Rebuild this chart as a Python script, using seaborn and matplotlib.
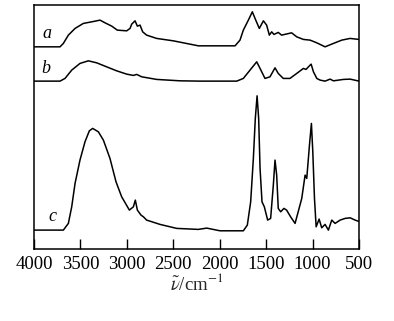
import matplotlib
matplotlib.use("Agg")
import matplotlib.pyplot as plt
import seaborn as sns
import pandas as pd

# wavenumbers (cm^-1) and signal heights (arbitrary units, stacked traces)
wn_a = [4000, 3720, 3684, 3630, 3558, 3469, 3379, 3289, 3235, 3163, 3103, 3002, 2966, 2948,
        2912, 2887, 2858, 2830, 2787, 2679, 2500, 2230, 1835, 1782, 1746, 1692, 1649, 1620,
        1574, 1530, 1495, 1466, 1441, 1416, 1370, 1334, 1226, 1171, 1099, 1027, 955, 866,
        776, 686, 597, 500]
val_a = [202.3, 202.3, 205.7, 214.0, 220.7, 225.7, 227.3, 229.0, 226.3, 223.0, 219.0, 218.3, 220.7, 225.0,
         228.3, 223.0, 224.0, 217.3, 214.0, 210.7, 208.3, 203.3, 203.3, 209.0, 219.0, 229.0, 237.3, 230.7,
         220.7, 228.3, 224.0, 214.0, 217.3, 214.7, 216.7, 214.0, 216.3, 212.3, 209.7, 209.0, 206.3, 202.3,
         205.7, 209.0, 210.7, 209.7]

wn_b = [4000, 3720, 3666, 3594, 3505, 3415, 3325, 3218, 3110, 3002, 2930, 2894, 2840, 2679,
        2428, 2212, 1817, 1746, 1674, 1602, 1566, 1513, 1459, 1405, 1370, 1316, 1244, 1171,
        1099, 1071, 1045, 1016, 991, 955, 919, 866, 812, 776, 668, 596, 500]
val_b = [168.0, 168.0, 170.7, 179.0, 185.7, 188.3, 186.3, 182.3, 178.3, 175.0, 173.7, 174.7, 172.3, 169.7,
         168.3, 168.0, 168.0, 170.7, 179.0, 187.3, 180.7, 170.7, 172.3, 181.3, 175.7, 170.7, 170.7, 175.7,
         180.7, 179.7, 182.3, 185.0, 177.3, 170.7, 169.0, 168.0, 170.0, 168.3, 169.7, 170.0, 168.0]

wn_c = [4000, 3684, 3630, 3594, 3558, 3505, 3451, 3404, 3368, 3307, 3253, 3182, 3117, 3056,
        2973, 2930, 2909, 2887, 2848, 2822, 2787, 2643, 2463, 2230, 2140, 1997, 1746, 1703,
        1667, 1638, 1617, 1598, 1581, 1566, 1545, 1520, 1484, 1452, 1423, 1405, 1387, 1370,
        1344, 1309, 1280, 1237, 1189, 1160, 1117, 1081, 1063, 1034, 1013, 998, 980, 962,
        930, 902, 866, 830, 794, 758, 704, 650, 596, 543, 489]
val_c = [19.0, 19.0, 25.7, 42.3, 65.7, 89.0, 107.3, 118.3, 120.7, 117.3, 109.0, 90.7, 67.3, 52.3,
         39.0, 42.3, 49.0, 39.0, 34.0, 32.3, 29.0, 24.7, 20.7, 19.7, 21.0, 18.3, 18.3, 24.0,
         47.3, 90.7, 130.7, 153.3, 130.7, 80.7, 47.3, 42.3, 29.0, 30.7, 64.0, 89.0, 74.0, 40.7,
         37.3, 40.7, 39.0, 32.3, 25.7, 35.7, 50.7, 74.0, 70.7, 104.0, 125.7, 97.3, 50.7, 22.3,
         30.0, 21.3, 24.7, 19.0, 29.0, 25.7, 29.0, 30.7, 31.3, 29.0, 27.3]

labels = ["a", "b", "c"]
xticks = [4000, 3500, 3000, 2500, 2000, 1500, 1000, 500]

sns.set_theme(style="white")
plt.rcParams["font.family"] = ["Liberation Serif", "DejaVu Serif"]
plt.rcParams["mathtext.fontset"] = "stix"

fig = plt.figure(figsize=(3.94, 3.21), dpi=100)
ax = fig.add_axes([0.0863, 0.224, 0.825, 0.760])

for wn, val in [(wn_a, val_a), (wn_b, val_b), (wn_c, val_c)]:
    df = pd.DataFrame({"wn": wn, "val": val})
    sns.lineplot(data=df, x="wn", y="val", ax=ax, color="black", linewidth=1.1,
                 estimator=None, sort=False)

label_pos = [(3860, 207), (3870, 172), (3800, 24)]
for lab, (x, y) in zip(labels, label_pos):
    ax.text(x, y, lab, fontsize=13, fontstyle="italic", color="black",
            ha="center", va="bottom")

ax.set_xlim(4000, 500)
ax.set_ylim(0, 244)
ax.set_xticks(xticks)
ax.set_xticklabels([str(t) for t in xticks])
ax.set_yticks([])
ax.set_ylabel("")
ax.set_xlabel(r"$\tilde{\nu}$/cm$^{-1}$", fontsize=13.5, labelpad=0)
ax.tick_params(axis="x", direction="in", length=7, width=1.0, bottom=True, top=False,
               labelsize=13.5, pad=5, colors="black")
for s in ax.spines.values():
    s.set_visible(True)
    s.set_color("black")
    s.set_linewidth(1.1)

fig.savefig("out.png", dpi=100)
